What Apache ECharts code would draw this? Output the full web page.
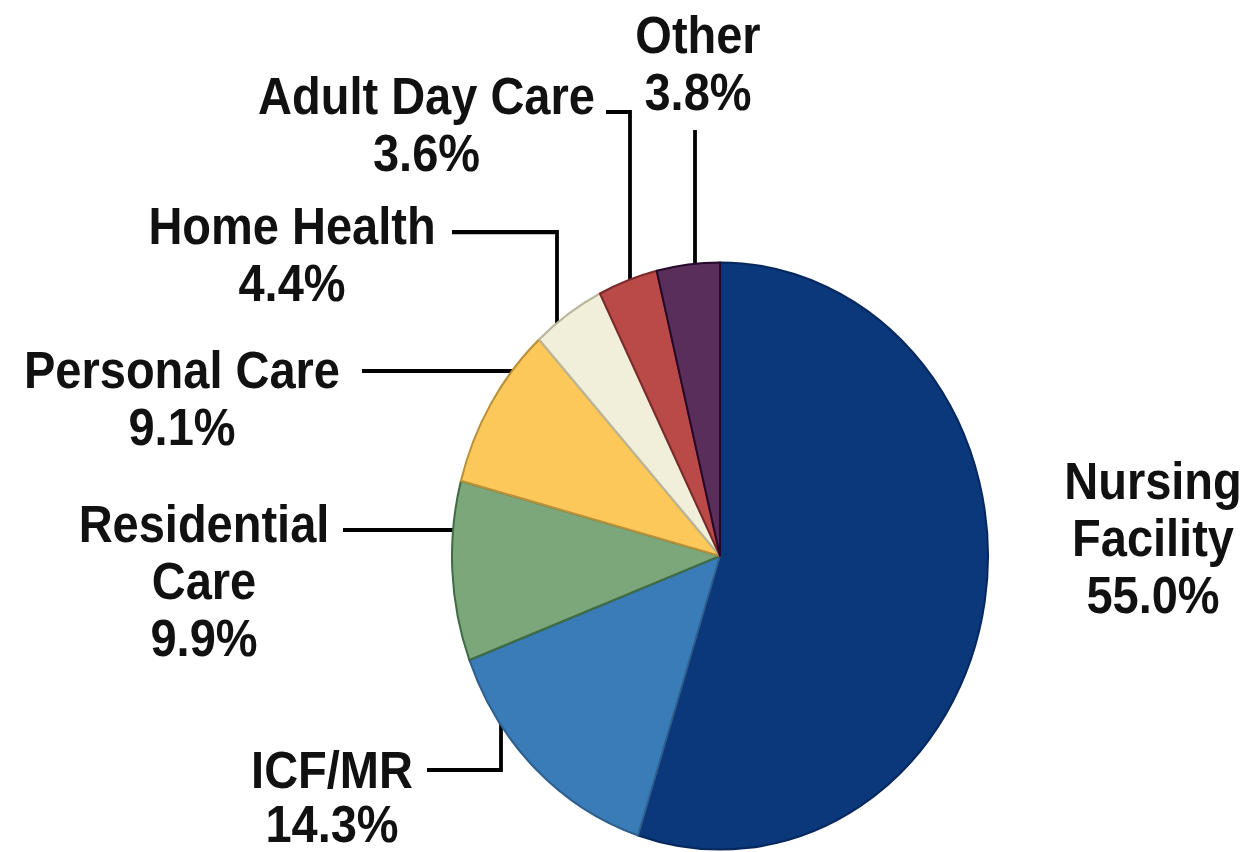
<!DOCTYPE html>
<html>
<head>
<meta charset="utf-8">
<script src="https://cdn.jsdelivr.net/npm/echarts@6/dist/echarts.min.js"></script>
<style>
html,body{margin:0;padding:0;background:#ffffff;overflow:hidden}
#wrap{width:1245px;height:852px;overflow:hidden}
#chart{width:1245px;height:778px;transform:scaleY(1.09512);transform-origin:0 0}
</style>
</head>
<body>
<div id="wrap"><div id="chart"></div></div>
<script>
// ---- data ----
const categories = ['Nursing\nFacility', 'ICF/MR', 'Residential\nCare', 'Personal Care', 'Home Health', 'Adult Day Care', 'Other'];
const shares = [55.0, 14.3, 9.9, 9.1, 4.4, 3.6, 3.8];

// ---- styles ----
const sliceColors  = ['#0B377B', '#397CB7', '#7BA77B', '#FDC85A', '#F1EFD9', '#B94A48', '#5A2E5B'];
const sliceBorders = ['#06285e', '#2f5f8c', '#3f6b45', '#b8913a', '#b9b69c', '#7a2a2a', '#25082a'];
// label block centres (unscaled chart coords)
const labelAnchors = [[1153, 491], [332, 727.5], [204, 530], [182, 363.4], [292, 232.3], [426.5, 113.6], [698, 57.5]];
const labelLineHeights = [52, 49, 52, 52, 52, 52, 52];
// leader lines, starting at the pie edge
const leaderLines = [
  null,
  [[501, 661], [501, 703.1], [427, 703.1]],
  [[455, 484], [400, 484], [343, 484]],
  [[513, 338.8], [440, 338.8], [362, 338.8]],
  [[557, 298], [557, 211.9], [452, 211.9]],
  [[630, 258], [630, 102.3], [606, 102.3]],
  [[695, 244], [695, 180], [695, 118.7]]
];

const chart = echarts.init(document.getElementById('chart'), null, {renderer: 'svg'});

const pieData = categories.map((name, i) => ({
  name: name,
  value: shares[i],
  itemStyle: {color: sliceColors[i], borderColor: sliceBorders[i], borderWidth: 2},
  label: {lineHeight: labelLineHeights[i]},
  labelLine: {show: leaderLines[i] !== null}
}));

chart.setOption({
  backgroundColor: '#ffffff',
  animation: false,
  series: [{
    type: 'pie',
    center: [720, 507.7],
    radius: 268,
    startAngle: 90,
    clockwise: true,
    avoidLabelOverlap: false,
    silent: true,
    data: pieData,
    label: {
      show: true,
      position: 'outside',
      formatter: p => p.name + '\n' + p.value.toFixed(1) + '%',
      fontFamily: '"Liberation Sans", Arial, sans-serif',
      fontWeight: 'bold',
      fontSize: 47,
      lineHeight: 52,
      color: '#111111',
      align: 'center'
    },
    labelLine: {
      show: true,
      length: 10,
      length2: 10,
      smooth: false,
      lineStyle: {color: '#000000', width: 3.8}
    },
    labelLayout: function (params) {
      const i = params.dataIndex;
      const out = {
        x: labelAnchors[i][0],
        y: labelAnchors[i][1],
        align: 'center',
        verticalAlign: 'middle'
      };
      if (leaderLines[i]) out.labelLinePoints = leaderLines[i];
      return out;
    }
  }]
});
</script>
</body>
</html>
